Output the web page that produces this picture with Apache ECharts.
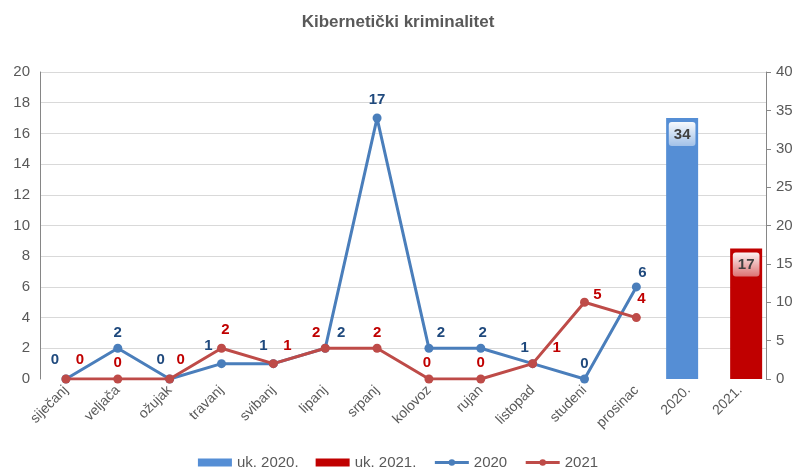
<!DOCTYPE html>
<html>
<head>
	<meta charset="UTF-8">
	<title>Kibernetički kriminalitet</title>
	<script src="https://cdn.jsdelivr.net/npm/echarts@6/dist/echarts.min.js"></script>
</head>
<body style="margin:0;">
	<div id="chart" style="width:796px;height:469px;"></div>
<script>
// kategorije i vrijednosti
var kategorije = ['siječanj', 'veljača', 'ožujak', 'travanj', 'svibanj', 'lipanj', 'srpanj',
    'kolovoz', 'rujan', 'listopad', 'studeni', 'prosinac', '2020.', '2021.'];
var god2020 = [0, 2, 0, 1, 1, 2, 17, 2, 2, 1, 0, 6, null, null];
var god2021 = [0, 0, 0, 2, 1, 2, 2, 0, 0, 1, 5, 4, null, null];
var uk2020 = [null, null, null, null, null, null, null, null, null, null, null, null, 34, null];
var uk2021 = [null, null, null, null, null, null, null, null, null, null, null, null, null, 17];

// pomaci oznaka (px) - kao u originalu
var pomak2020 = [[-11, -19], [0, -15], [-9, -19], [-13, -18], [-10, -18], [16, -15], [0, -18],
    [12, -15], [2, -15], [-8, -16], [0, -15], [6, -14]];
var pomak2021 = [[14, -19], [0, -16], [11, -19], [4, -18], [14, -18], [-9, -15], [0, -15],
    [-2, -16], [0, -16], [24, -16], [13, -7], [5, -19]];

function sOznakama(vrijednosti, pomaci, boja) {
    return vrijednosti.map(function (v, i) {
        if (v === null) return null;
        return {
            value: v,
            label: { show: true, position: 'inside', offset: pomaci[i], color: boja,
                fontWeight: 'bold', fontSize: 15 }
        };
    });
}

var chart = echarts.init(document.getElementById('chart'));
var siva = '#595959';
var font = 'Liberation Sans, Arial, sans-serif';

var oznakaStupca = {
    show: true,
    position: 'insideTop',
    distance: 4,
    color: '#404040',
    fontWeight: 'bold',
    fontSize: 15,
    fontFamily: font,
    padding: [5, 5, 4, 5],
    borderRadius: 3,
    backgroundColor: {
        type: 'linear', x: 0, y: 0, x2: 0, y2: 1,
        colorStops: [{ offset: 0, color: 'rgba(255,255,255,0.95)' }, { offset: 1, color: 'rgba(255,255,255,0.45)' }]
    }
};

var option = {
    textStyle: { fontFamily: font },
    title: {
        text: 'Kibernetički kriminalitet',
        left: 'center',
        top: 9,
        textStyle: { color: siva, fontSize: 17, fontWeight: 'bold', fontFamily: font }
    },
    legend: {
        bottom: -6,
        left: 'center',
        itemWidth: 34,
        itemHeight: 8,
        itemGap: 17,
        lineStyle: { width: 3 },
        textStyle: { color: siva, fontSize: 15, fontFamily: font },
        data: [
            { name: 'uk. 2020.', icon: 'rect' },
            { name: 'uk. 2021.', icon: 'rect' },
            '2020', '2021'
        ]
    },
    grid: { left: 40, right: 30, top: 72, bottom: 90 },
    xAxis: {
        type: 'category',
        data: kategorije,
        axisLine: { show: false },
        axisTick: { show: false },
        axisLabel: { rotate: 45, color: siva, fontSize: 14, margin: 9, interval: 0 }
    },
    yAxis: [{
        type: 'value',
        min: 0, max: 20, interval: 2,
        axisLine: { show: true, lineStyle: { color: '#868686' } },
        axisTick: { show: false },
        axisLabel: { color: siva, fontSize: 15, margin: 10 },
        splitLine: { showMinLine: false, lineStyle: { color: '#d9d9d9' } }
    }, {
        type: 'value',
        position: 'right',
        min: 0, max: 40, interval: 5,
        axisLine: { show: true, lineStyle: { color: '#868686' } },
        axisTick: { show: true, length: 5, lineStyle: { color: '#868686' } },
        axisLabel: { color: siva, fontSize: 15, margin: 10 },
        splitLine: { show: false }
    }],
    series: [{
        name: 'uk. 2020.',
        type: 'bar',
        yAxisIndex: 1,
        data: uk2020,
        barWidth: 32,
        barGap: '-62%',
        itemStyle: { color: '#558ED5' },
        label: oznakaStupca
    }, {
        name: 'uk. 2021.',
        type: 'bar',
        yAxisIndex: 1,
        data: uk2021,
        barWidth: 32,
        itemStyle: { color: '#C00000' },
        label: oznakaStupca
    }, {
        name: '2020',
        type: 'line',
        data: sOznakama(god2020, pomak2020, '#1F497D'),
        symbol: 'circle',
        symbolSize: 9,
        lineStyle: { width: 3, color: '#4A7EBB' },
        itemStyle: { color: '#4A7EBB' },
        z: 3
    }, {
        name: '2021',
        type: 'line',
        data: sOznakama(god2021, pomak2021, '#C00000'),
        symbol: 'circle',
        symbolSize: 9,
        lineStyle: { width: 3, color: '#BE4B48' },
        itemStyle: { color: '#BE4B48' },
        z: 4
    }]
};

chart.setOption(option);
</script>
</body>
</html>
